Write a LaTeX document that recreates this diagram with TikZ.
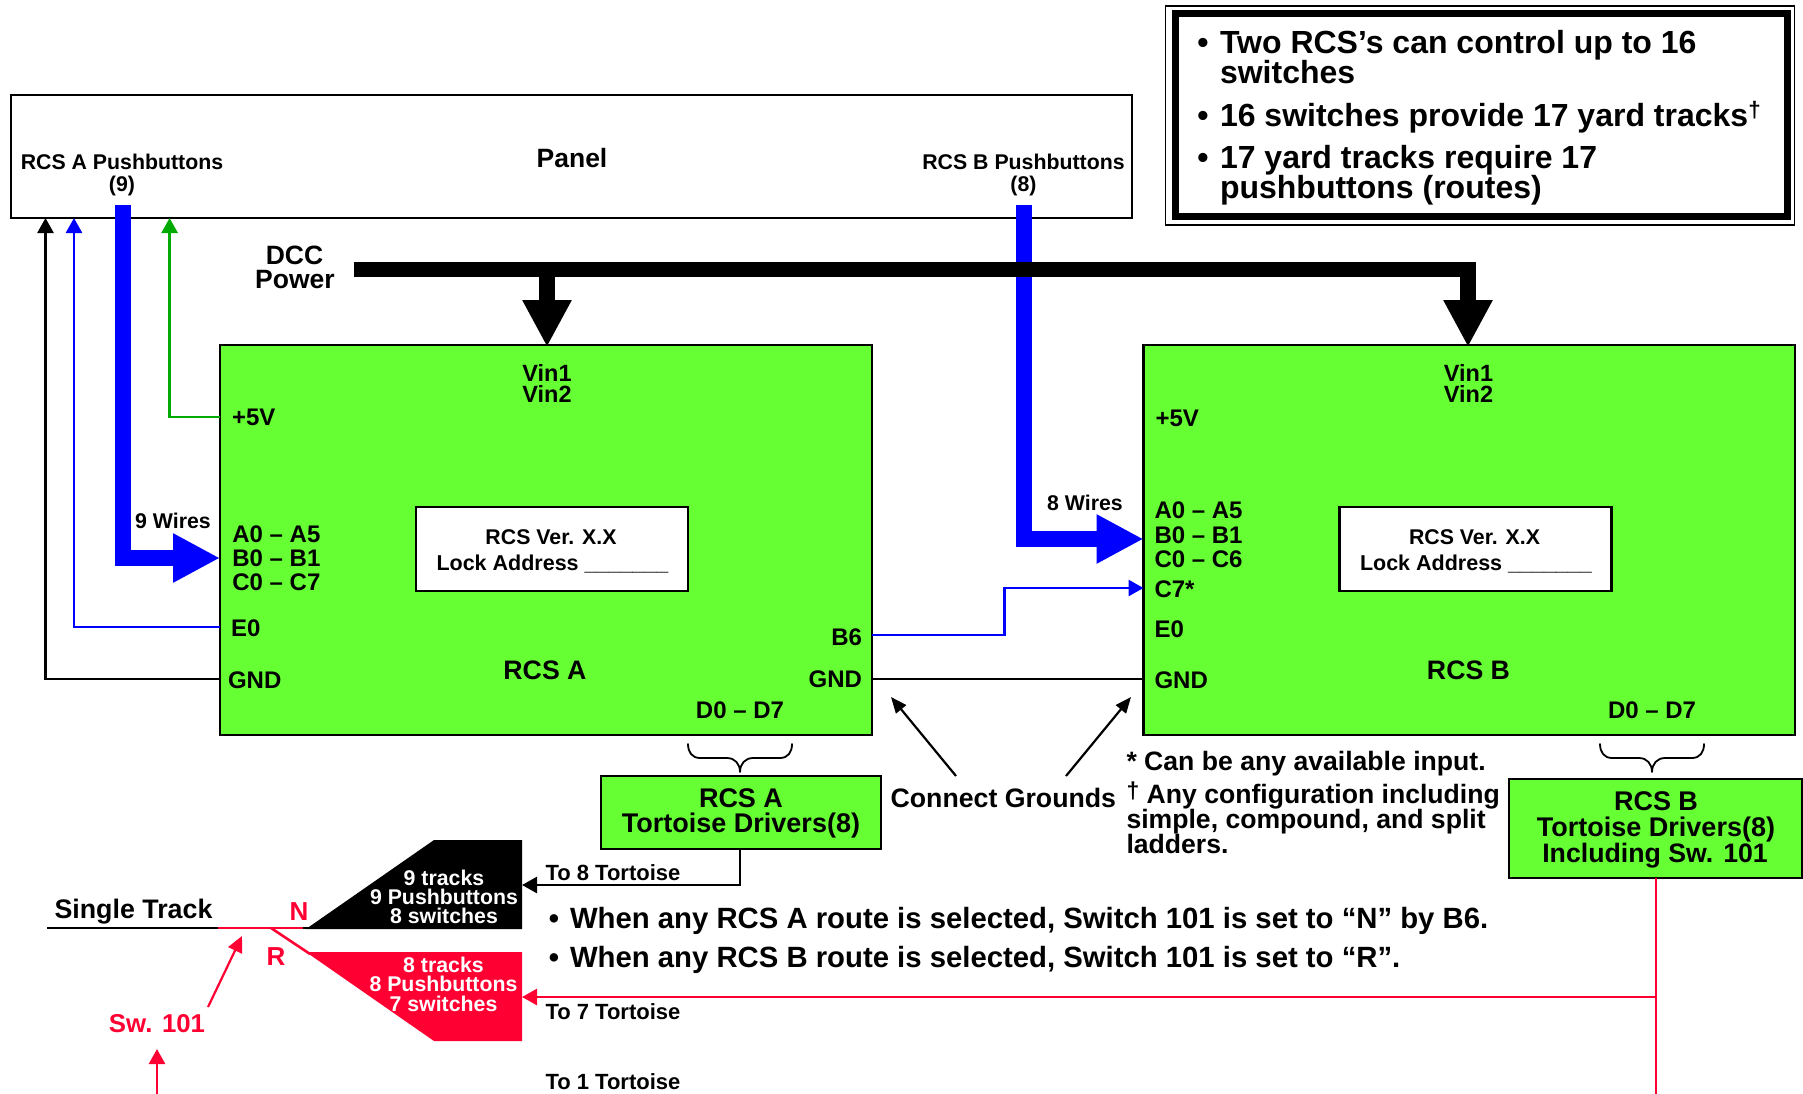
\documentclass[tikz,border=0pt]{standalone}
\usepackage{fontspec}
\setmainfont{Liberation Sans}
\usetikzlibrary{arrows.meta}
\definecolor{boxgreen}{HTML}{66FF33}
\definecolor{sigred}{HTML}{FF0033}
\definecolor{siggreen}{HTML}{00AA00}
\definecolor{sigblue}{HTML}{0000FF}
\tikzset{
  lbl/.style={inner sep=0pt,outer sep=0pt,text height=#1*0.716pt,text depth=0pt,
    font=\fontsize{#1}{#1}\selectfont\bfseries},
  board/.style={draw=black,line width=2.2pt,fill=boxgreen,anchor=north west,inner sep=0pt,outer sep=0pt},
  whitebox/.style={draw=black,line width=2.2pt,fill=white,anchor=north west,inner sep=0pt,outer sep=0pt},
  wire/.style={line width=2.6pt,line join=miter},
  smalltip/.style={-{Triangle[length=15pt,width=16pt]}},
  bus/.style={line width=16pt,line join=miter,-{Triangle[length=47pt,width=46pt]}},
  note/.style={line width=2.2pt,-{Triangle[length=16pt,width=13pt]}},
  bracepath/.style={line width=1.8pt,line join=round,line cap=round},
}
\newcommand{\mybrace}[1]{%
  \draw[bracepath,shift={(#1,0)}] (-52,744) .. controls (-52,752) and (-48,758) .. (-40,758) -- (-13,758)
    .. controls (-5,758) and (0,764) .. (0,772) .. controls (0,764) and (5,758) .. (13,758) -- (40,758)
    .. controls (48,758) and (52,752) .. (52,744);}
\begin{document}
\begin{tikzpicture}[x=1pt,y=-1pt]
\useasboundingbox (0,0) rectangle (1803,1093);
% top note box
\node[draw=black,line width=1.2pt,fill=white,anchor=north west,inner sep=0pt,outer sep=0pt,minimum width=629pt,minimum height=219pt] (notebox) at (1165.5,6) {};
\node[draw=black,line width=7pt,anchor=north west,inner sep=0pt,outer sep=0pt,minimum width=612pt,minimum height=203pt] (noteinner) at (1175,13.5) {};
\node[lbl=32,anchor=center] (nb1) at (1203,42) {•};
\node[lbl=32,anchor=west] (n1) at (1220,42) {Two RCS’s can control up to 16};
\node[lbl=32,anchor=west] (n2) at (1220,72) {switches};
\node[lbl=32,anchor=center] (nb2) at (1203,115) {•};
\node[lbl=32,anchor=west] (n3) at (1220,115) {16 switches provide 17 yard tracks\textsuperscript{†}};
\node[lbl=32,anchor=center] (nb3) at (1203,157) {•};
\node[lbl=32,anchor=west] (n4) at (1220,157) {17 yard tracks require 17};
\node[lbl=32,anchor=west] (n5) at (1220,187) {pushbuttons (routes)};
% panel
\node[draw=black,line width=2.2pt,fill=white,anchor=north west,inner sep=0pt,outer sep=0pt,minimum width=1121pt,minimum height=123pt] (panel) at (11,95) {};
\node[lbl=26.5] (paneltxt) at (572,158) {Panel};
\node[lbl=21.3] (pa1) at (122,162) {RCS A Pushbuttons};
\node[lbl=21.3] (pa2) at (122,184) {(9)};
\node[lbl=21.3] (pb1) at (1023.5,162) {RCS B Pushbuttons};
\node[lbl=21.3] (pb2) at (1023.5,184) {(8)};
% boards
\node[board,minimum width=652pt,minimum height=390pt] (rcsa) at (220,345) {};
\node[board,minimum width=651.5pt,minimum height=390pt] (rcsb) at (1143.5,345) {};
\node[whitebox,minimum width=272pt,minimum height=84pt] (locka) at (416,507) {};
\node[whitebox,minimum width=272pt,minimum height=84pt] (lockb) at (1339.5,507) {};
\node[board,minimum width=280pt,minimum height=73pt] (drva) at (601,776) {};
\node[board,minimum width=293pt,minimum height=99pt] (drvb) at (1509,779) {};
% power
\node[lbl=26.5] (dcc1) at (294.5,255) {DCC};
\node[lbl=26.5] (dcc2) at (295,279.5) {Power};
\coordinate (dccs) at (354,269.5);
\coordinate (dcca) at (547,269.5);
\coordinate (dccb) at (1468,269.5);
% thick blue buses
\coordinate (busa) at (122.5,205);
\coordinate (busb) at (1024,205);
\draw[bus,sigblue] (busa) |- (rcsa.west |- 0,558);
\draw[bus,sigblue] (busb) |- (rcsb.west |- 0,539);
\draw[line width=15pt] (dccs) -- (dccb) -- ++(0,8);
\draw[bus,black] (dcca) -- (547,347);
\draw[bus,black] (dccb) -- (1468,347);
% thin wires
\draw[wire,smalltip,siggreen] (rcsa.west |- 0,417) -| (panel.south -| 169.6,0);
\draw[wire,smalltip,sigblue] (rcsa.west |- 0,627) -| (panel.south -| 74,0);
\draw[wire,smalltip,black] (rcsa.west |- 0,679) -| (panel.south -| 45.5,0);
\draw[wire,black] (rcsa.east |- 0,679) -- (rcsb.west |- 0,679);
\draw[wire,sigblue,smalltip] (rcsa.east |- 0,635) -| (1004.5,588) -- (rcsb.west |- 0,588);
% ground notes
\node[lbl=26.7,anchor=west] (cg) at (890.6,798) {Connect Grounds};
\coordinate (cgl) at (956,776);
\coordinate (cgr) at (1066,776);
\coordinate (cgla) at (891,697);
\coordinate (cgra) at (1131,697);
\draw[note] (cgl) -- (cgla);
\draw[note] (cgr) -- (cgra);
% labels A
\node[lbl=23.5] (va1) at (547,373) {Vin1};
\node[lbl=23.5] (va2) at (547,394) {Vin2};
\node[lbl=24,anchor=west] (a5v) at (232,417) {+5V};
\node[lbl=21.3] (w9) at (173,521) {9 Wires};
\node[lbl=24,anchor=west] (aa) at (232.4,533.5) {A0 – A5};
\node[lbl=24,anchor=west] (ab) at (232.4,557.5) {B0 – B1};
\node[lbl=24,anchor=west] (ac) at (232.4,582) {C0 – C7};
\node[lbl=24,anchor=west] (ae) at (231,628) {E0};
\node[lbl=24,anchor=west] (ag) at (228,680) {GND};
\node[lbl=26.7] (ra) at (545,670) {RCS A};
\node[lbl=21.3] (la1) at (551,537) {RCS Ver. X.X};
\node[lbl=21.5,anchor=west] (la2) at (436.5,562.5) {Lock Address \_\_\_\_\_\_\_};
\node[lbl=24,anchor=east] (b6) at (862,637) {B6};
\node[lbl=24,anchor=east] (ag2) at (862,679) {GND};
\node[lbl=24] (da) at (740,710) {D0 – D7};
% labels B
\node[lbl=23.5] (vb1) at (1468.5,373) {Vin1};
\node[lbl=23.5] (vb2) at (1468.5,394) {Vin2};
\node[lbl=24,anchor=west] (b5v) at (1155.5,418) {+5V};
\node[lbl=21.3] (w8) at (1085,503) {8 Wires};
\node[lbl=24,anchor=west] (ba) at (1154.5,509.5) {A0 – A5};
\node[lbl=24,anchor=west] (bb) at (1154.5,534.5) {B0 – B1};
\node[lbl=24,anchor=west] (bc) at (1154.5,558.5) {C0 – C6};
\node[lbl=24,anchor=west] (bc7) at (1154.5,589) {C7*};
\node[lbl=24,anchor=west] (be) at (1154.5,628.5) {E0};
\node[lbl=24,anchor=west] (bg) at (1154.5,680) {GND};
\node[lbl=26.7] (rb) at (1468.5,670) {RCS B};
\node[lbl=21.3] (lb1) at (1474.5,537) {RCS Ver. X.X};
\node[lbl=21.5,anchor=west] (lb2) at (1360,562.5) {Lock Address \_\_\_\_\_\_\_};
\node[lbl=24] (db) at (1652,710) {D0 – D7};
% braces
\mybrace{740}
\mybrace{1652}
% drivers
\node[lbl=27] (da1) at (741,798) {RCS A};
\node[lbl=27] (da2) at (741,823) {Tortoise Drivers(8)};
\node[lbl=27] (db1) at (1656,801) {RCS B};
\node[lbl=27] (db2) at (1656,827) {Tortoise Drivers(8)};
\node[lbl=26.7] (db3) at (1655,853) {Including Sw. 101};
% footnotes
\node[lbl=26.6,anchor=west] (f1) at (1126.5,761) {* Can be any available input.};
\node[lbl=26.6,anchor=west] (f2) at (1126.5,793.5) {\raisebox{5pt}{\fontsize{23}{23}\selectfont †} Any configuration including};
\node[lbl=26.6,anchor=west] (f3) at (1126.5,818.5) {simple, compound, and split};
\node[lbl=26.6,anchor=west] (f4) at (1126.5,844) {ladders.};
% yard shapes
\fill[black] (306,929) -- (434,840) -- (522,840) -- (522,929) -- cycle;
\fill[sigred] (306,952) -- (522,952) -- (522,1041) -- (434,1041) -- cycle;
\coordinate (yardb) at (522,885);
\coordinate (yardr) at (522,997);
\draw[wire,black,smalltip] (drva.south -| 740,0) |- (yardb);
\draw[wire,sigred,smalltip] (1656,997) -- (yardr);
\draw[wire,sigred] (drvb.south -| 1656,0) -- (1656,1095);
\node[lbl=21.3,text=white] (t1) at (444,878) {9 tracks};
\node[lbl=21.3,text=white] (t2) at (444,897) {9 Pushbuttons};
\node[lbl=21.3,text=white] (t3) at (444,916) {8 switches};
\node[lbl=21.3,text=white] (t4) at (443.5,965) {8 tracks};
\node[lbl=21.3,text=white] (t5) at (443.5,984) {8 Pushbuttons};
\node[lbl=21.3,text=white] (t6) at (443.5,1004) {7 switches};
\node[lbl=22,anchor=west] (to8) at (545.5,873) {To 8 Tortoise};
\node[lbl=22,anchor=west] (to7) at (545.5,1012) {To 7 Tortoise};
\node[lbl=22,anchor=west] (to1) at (545.5,1081.5) {To 1 Tortoise};
% track
\node[lbl=26.8,anchor=west] (st) at (54.5,908.5) {Single Track};
\coordinate (tra) at (47,928);
\coordinate (trb) at (218,928);
\coordinate (trc) at (303,928);
\coordinate (trd) at (312,928);
\coordinate (tre) at (271,928);
\coordinate (trf) at (310,954);
\draw[wire,black] (tra) -- (trd);
\draw[wire,sigred] (trb) -- (trc);
\draw[wire,sigred] (tre) -- (trf);
\node[lbl=26,text=sigred] (nn) at (299,911) {N};
\node[lbl=26,text=sigred] (rr) at (276,956) {R};
\node[lbl=25.8,text=sigred] (sw) at (157,1023) {Sw. 101};
\coordinate (swa) at (208,1007);
\coordinate (swb) at (242,936);
\draw[note,sigred,-{Triangle[length=16pt,width=15pt]}] (swa) -- (swb);
\coordinate (swc) at (157,1095);
\coordinate (swd) at (157,1049);
\draw[wire,sigred,smalltip] (swc) -- (swd);
% statements
\node[lbl=29.3] (s1b) at (554,918) {•};
\node[lbl=29.3,anchor=west] (s1) at (570,918) {When any RCS A route is selected, Switch 101 is set to “N” by B6.};
\node[lbl=29.3] (s2b) at (554,957) {•};
\node[lbl=29.3,anchor=west] (s2) at (570,957) {When any RCS B route is selected, Switch 101 is set to “R”.};
\end{tikzpicture}
\end{document}
